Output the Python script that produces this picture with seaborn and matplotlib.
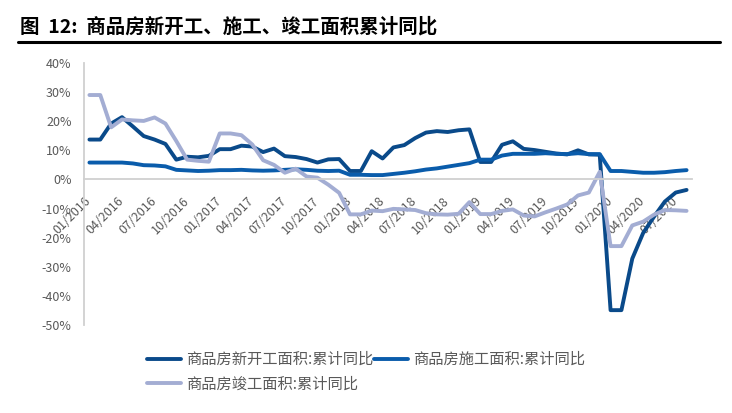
import matplotlib
matplotlib.use("Agg")
import matplotlib.pyplot as plt
import matplotlib.transforms as mtransforms
from matplotlib.lines import Line2D
import seaborn as sns
import numpy as np

# months 01/2016 .. 08/2020 (Jan and Feb carry the same Jan-Feb cumulative value)
months = [f"{m:02d}/{y}" for y in range(2016, 2021) for m in range(1, 13)][:56]

new_start = [13.7, 13.7, 19.2, 21.4, 18.2, 14.9, 13.7, 12.2, 6.8, 7.8, 7.6, 8.1,
             10.4, 10.4, 11.6, 11.3, 9.4, 10.6, 8.0, 7.7, 7.0, 5.8, 6.9, 7.0,
             2.9, 2.9, 9.7, 7.2, 11.0, 11.8, 14.2, 16.1, 16.6, 16.3, 16.9, 17.2,
             6.0, 6.0, 11.9, 13.1, 10.5, 10.1, 9.5, 8.9, 8.6, 10.0, 8.6, 8.5,
             -44.9, -44.9, -27.2, -18.4, -12.8, -7.6, -4.5, -3.6]
under_constr = [5.8, 5.8, 5.8, 5.8, 5.5, 4.9, 4.8, 4.5, 3.3, 3.1, 2.9, 3.0,
                3.2, 3.2, 3.3, 3.1, 3.0, 3.1, 3.3, 3.5, 3.3, 3.0, 2.9, 3.0,
                1.6, 1.6, 1.5, 1.5, 1.9, 2.3, 2.8, 3.4, 3.8, 4.4, 5.0, 5.6,
                6.8, 6.8, 8.2, 8.8, 8.8, 8.8, 9.0, 8.8, 8.7, 9.0, 8.7, 8.7,
                2.9, 2.9, 2.6, 2.3, 2.3, 2.5, 2.9, 3.2]
completed = [29.0, 29.0, 17.9, 20.6, 20.3, 20.1, 21.3, 19.2, 13.2, 6.8, 6.4, 6.1,
             15.8, 15.8, 15.2, 12.0, 6.6, 5.0, 2.3, 3.7, 1.0, 0.6, -1.8, -4.6,
             -12.0, -12.0, -10.7, -10.9, -10.1, -10.3, -10.5, -11.6, -12.0, -12.1, -11.8, -7.8,
             -11.9, -11.9, -10.8, -10.3, -12.4, -12.7, -11.3, -10.0, -8.6, -5.5, -4.5, 2.6,
             -22.9, -22.9, -15.8, -14.5, -12.1, -10.5, -10.6, -10.8]

labels = ["商品房新开工面积:累计同比", "商品房施工面积:累计同比", "商品房竣工面积:累计同比"]
colors = ["#0A4A8A", "#0A5CAB", "#A3ADD3"]

sns.set_style("white")
plt.rcParams["font.family"] = ["Noto Sans CJK SC", "DejaVu Sans"]

fig = plt.figure(figsize=(7.32, 4.13), dpi=100)
ax = fig.add_axes([84 / 732, 1 - 325 / 413, (692 - 84) / 732, (325 - 63) / 413])

x = np.arange(len(months))
for vals, lab, col in [(new_start, labels[0], colors[0]),
                       (under_constr, labels[1], colors[1]),
                       (completed, labels[2], colors[2])]:
    sns.lineplot(x=x, y=vals, ax=ax, color=col, lw=2.8, label=lab, sort=False)

ax.set_xlim(-0.5, len(months) - 0.5)
ax.set_ylim(-50, 40)

for s in ["top", "right"]:
    ax.spines[s].set_visible(False)
ax.spines["bottom"].set_position(("data", 0))
for s in ["left", "bottom"]:
    ax.spines[s].set_color("#D0D0D0")
    ax.spines[s].set_linewidth(1.3)

ax.tick_params(axis="both", colors="#D0D0D0", labelcolor="#595959",
               direction="out", length=4, width=1.2, labelsize=9)
ax.tick_params(axis="x", pad=10)
ax.tick_params(axis="y", pad=5)

ax.set_yticks(range(-50, 41, 10))
ax.set_yticklabels([f"{v}%" for v in range(-50, 41, 10)])

tick_pos = np.arange(0, len(months), 3)
ax.set_xticks(tick_pos - 0.5)
ax.set_xticklabels([months[i] for i in tick_pos])
shift = mtransforms.ScaledTranslation(0.05, 0, fig.dpi_scale_trans)
for t in ax.get_xticklabels():
    t.set_rotation(45)
    t.set_rotation_mode("anchor")
    t.set_ha("right")
    t.set_va("center")
    t.set_transform(t.get_transform() + shift)

handles, labs = ax.get_legend_handles_labels()
order = [0, 2, 1]
ax.legend([handles[i] for i in order], [labs[i] for i in order], ncol=2,
          loc="center", bbox_to_anchor=(0.5, 1 - 372 / 413),
          bbox_transform=fig.transFigure, frameon=False, fontsize=11,
          labelcolor="#595959", handlelength=2.2, handletextpad=0.3,
          columnspacing=0.1, labelspacing=0.5)
ax.set_xlabel("")
ax.set_ylabel("")

fig.text(20 / 732, 1 - 27 / 413, "图  12:  商品房新开工、施工、竣工面积累计同比",
         fontsize=14, fontweight="bold", va="center", ha="left", color="black")
fig.add_artist(Line2D([18 / 732, 720 / 732], [1 - 42 / 413] * 2,
                      color="black", lw=2.2, transform=fig.transFigure))

fig.savefig("out.png", dpi=100)
